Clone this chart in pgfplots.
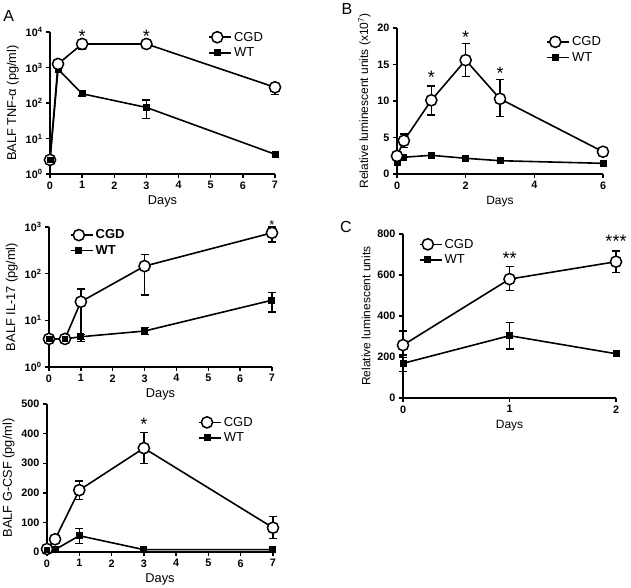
\documentclass[border=0pt]{standalone}
\usepackage{fontspec}
\setmainfont{Liberation Sans}
\usepackage{pgfplots}
\pgfplotsset{compat=1.18}
\tikzset{star/.style={font=\fontsize{18}{18}\selectfont, anchor=base}}
\pgfplotsset{
  prism/.style={
    scale only axis, axis lines=left, axis line style={-, line width=1.6pt},
    tick align=outside, major tick length=4pt, tick style={line width=1.4pt, black},
    enlargelimits=false, clip=false,
    ticklabel style={font=\bfseries\fontsize{10.8}{11}\selectfont},
    /pgf/number format/assume math mode=true,
    label style={font=\fontsize{12.8}{13}\selectfont},
    legend style={draw=none, fill=none, font=\fontsize{13}{13}\selectfont, row sep=1pt},
    legend cell align=left, reverse legend,
    legend image code/.code={\path (0pt,0pt) -- (22pt,0pt);\draw[mark repeat=2,mark phase=2] plot coordinates {(0pt,0pt)(8pt,0pt)(16pt,0pt)};},
    xlabel={Days},
  },
  ebar/.style={error bars/y dir=both, error bars/y explicit, error bars/error bar style={line width=1.3pt},
    error bars/error mark options={rotate=90, mark size=4pt, line width=1.3pt}},
  cgd/.style={black, line width=1.6pt, mark=*, mark size=5.6pt, mark options={fill=white, line width=1.5pt}, ebar},
  wt/.style={black, line width=1.6pt, mark=square*, mark size=2.7pt, mark options={fill=black}, ebar},
  wtm/.style={black, only marks, mark=square*, mark size=2.7pt, mark options={fill=black}},
}
\begin{document}
\begin{tikzpicture}
\path[use as bounding box] (0pt,0pt) rectangle (631pt,587pt);
\node[font=\fontsize{16}{16}\selectfont] at (8.7pt,571pt) {A};
\node[font=\fontsize{16}{16}\selectfont] at (347pt,578pt) {B};
\node[font=\fontsize{16}{16}\selectfont] at (346pt,360pt) {C};

% ---- A1: TNF-alpha
\begin{axis}[prism, at={(50pt,413pt)}, anchor=south west, width=225pt, height=142pt,
  xmin=0, xmax=7, xtick={0,1,...,7}, ymode=log, ymin=1, ymax=10000,
  ytick={1,10,100,1000,10000}, yminorticks=false,
  yticklabels={10\textsuperscript{0},10\textsuperscript{1},10\textsuperscript{2},10\textsuperscript{3},10\textsuperscript{4}},
  ylabel={BALF TNF-α (pg/ml)},
  legend style={at={(0.69,1.03)}, anchor=north west}]
\addplot[wt] coordinates {(0,2.5) (0.25,900) (1,182) += (0,38) -= (0,24) (3,75) += (0,46) -= (0,38) (7,3.6)};
\addlegendentry{WT}
\addplot[cgd] coordinates {(0,2.5) (0.25,1260) (1,4600) += (0,1400) -= (0,1400) (3,4600) (7,277) += (0,80) -= (0,100)};
\addlegendentry{CGD}
\addplot[wtm, forget plot] coordinates {(0,2.5)};
\node[star] at (axis cs:1,5200) {*};
\node[star] at (axis cs:3,5200) {*};
\end{axis}

% ---- A2: IL-17
\begin{axis}[prism, at={(49pt,220pt)}, anchor=south west, width=223pt, height=140pt,
  xmin=0, xmax=7, xtick={0,1,...,7}, ymode=log, ymin=1, ymax=1000,
  ytick={1,10,100,1000}, yminorticks=false,
  yticklabels={10\textsuperscript{0},10\textsuperscript{1},10\textsuperscript{2},10\textsuperscript{3}},
  ylabel={BALF IL-17 (pg/ml)},
  legend style={at={(0.08,1.01)}, anchor=north west, font=\bfseries\fontsize{13}{13}\selectfont}]
\addplot[wt] coordinates {(0,4) (0.5,4) (1,4.45) += (0,0.6) -= (0,0.6) (3,5.9) += (0,1.1) -= (0,0.9) (7,27) += (0,13) -= (0,12)};
\addlegendentry{WT}
\addplot[cgd] coordinates {(0,4) (0.5,4) (1,25) += (0,22) -= (0,21.5) (3,145) += (0,114) -= (0,110) (7,750) += (0,250) -= (0,270)};
\addlegendentry{CGD}
\addplot[wtm, forget plot] coordinates {(0,4) (0.5,4)};
\node[star, font=\fontsize{13}{13}\selectfont] at (axis cs:7,880) {*};
\end{axis}

% ---- A3: G-CSF
\begin{axis}[prism, at={(47pt,35pt)}, anchor=south west, width=226pt, height=148pt,
  xmin=0, xmax=7, xtick={0,1,...,7}, ymin=0, ymax=500, ytick={0,100,...,500},
  ylabel={BALF G-CSF (pg/ml)},
  legend style={at={(0.655,0.94)}, anchor=north west}]
\addplot[wt] coordinates {(0,8) (0.25,8) (1,55) += (0,24) -= (0,26) (3,8) (7,8)};
\addlegendentry{WT}
\addplot[cgd] coordinates {(0,10) (0.25,43) (1,209) += (0,31) -= (0,31) (3,351) += (0,52) -= (0,51) (7,82) += (0,37) -= (0,36)};
\addlegendentry{CGD}
\addplot[wtm, forget plot] coordinates {(0,8)};
\node[star] at (axis cs:3,412) {*};
\end{axis}

% ---- B
\begin{axis}[prism, at={(397pt,413pt)}, anchor=south west, width=206pt, height=146pt,
  xmin=0, xmax=6, xtick={0,2,4,6}, ymin=0, ymax=20, ytick={0,5,...,20},
  ylabel={Relative luminescent units (x10\textsuperscript{7})},
  label style={font=\fontsize{12}{12}\selectfont},
  legend style={at={(0.71,0.97)}, anchor=north west}]
\addplot[wt] coordinates {(0,1.6) (0.2,2.3) (1,2.56) (2,2.15) (3,1.82) (6,1.46)};
\addlegendentry{WT}
\addplot[cgd] coordinates {(0,2.47) (0.2,4.56) += (0,0.9) -= (0,0.9) (1,10.1) += (0,1.95) -= (0,2.0) (2,15.6) += (0,2.3) -= (0,2.2) (3,10.3) += (0,2.6) -= (0,2.45) (6,3.05)};
\addlegendentry{CGD}
\node[star] at (axis cs:1,12.4) {*};
\node[star] at (axis cs:2,17.9) {*};
\node[star] at (axis cs:3,12.9) {*};
\end{axis}

% ---- C
\begin{axis}[prism, at={(403pt,189pt)}, anchor=south west, width=213pt, height=164pt,
  xmin=0, xmax=2, xtick={0,1,2}, ymin=0, ymax=800, ytick={0,200,...,800},
  ylabel={Relative luminescent units},
  label style={font=\fontsize{12}{12}\selectfont},
  legend style={at={(0.06,0.995)}, anchor=north west}]
\addplot[wt] coordinates {(0,169) += (0,41) -= (0,41) (1,304) += (0,65) -= (0,65) (2,216)};
\addlegendentry{WT}
\addplot[cgd] coordinates {(0,258) += (0,69) -= (0,60) (1,580) += (0,60) -= (0,57) (2,665) += (0,52) -= (0,52)};
\addlegendentry{CGD}
\node[star] at (axis cs:1,650) {**};
\node[star] at (axis cs:2,733) {***};
\end{axis}
\end{tikzpicture}
\end{document}
